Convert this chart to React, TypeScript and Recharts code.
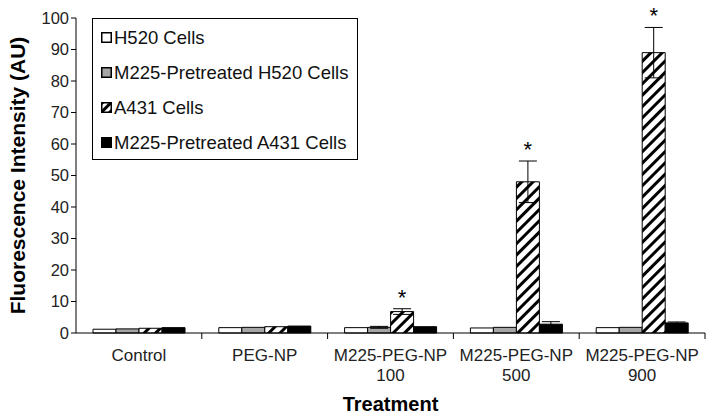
import { BarChart, Bar, XAxis, YAxis, ErrorBar, LabelList } from 'recharts'

const categories = ['Control', 'PEG-NP', 'M225-PEG-NP\n100', 'M225-PEG-NP\n500', 'M225-PEG-NP\n900']
const h520 = [1.2, 1.7, 1.7, 1.6, 1.7]
const m225H520 = [1.3, 1.8, 1.8, 1.8, 1.8]
const a431 = [1.5, 2.0, 6.8, 48, 89]
const m225A431 = [1.7, 2.2, 2.0, 2.8, 3.2]
const h520Err = [0, 0, 0, 0, 0]
const m225H520Err = [0, 0, 0.3, 0, 0]
const a431Err = [0, 0, 0.9, 6.6, 8]
const m225A431Err = [0, 0, 0, 0.8, 0.3]
const significant = [false, false, true, true, true]
const yTicks = [0, 10, 20, 30, 40, 50, 60, 70, 80, 90, 100]

const data = categories.map((name, i) => ({
  name,
  h520: h520[i], h520Err: h520Err[i],
  m225H520: m225H520[i], m225H520Err: m225H520Err[i],
  a431: a431[i], a431Err: a431Err[i],
  m225A431: m225A431[i], m225A431Err: m225A431Err[i],
  sig: significant[i],
}))

const W = 714
const H = 416
const MARGIN = { top: 18, right: 9, left: 0, bottom: 0 }
const Y_W = 76
const FONT = 'Liberation Sans, Arial, sans-serif'

const SERIES = [
  { key: 'h520', name: 'H520 Cells', fill: '#ffffff' },
  { key: 'm225H520', name: 'M225-Pretreated H520 Cells', fill: '#a6a6a6' },
  { key: 'a431', name: 'A431 Cells', fill: 'url(#hatch)' },
  { key: 'm225A431', name: 'M225-Pretreated A431 Cells', fill: '#000000' },
]

// eslint-disable-next-line @typescript-eslint/no-explicit-any
function CatTick({ x, y, payload }: any) {
  const band = (W - MARGIN.right - Y_W) / categories.length
  const lines = String(payload.value).split('\n')
  return (
    <g>
      <line x1={x + band / 2} x2={x + band / 2} y1={y - 8} y2={y - 2} stroke="#000" />
      {lines.map((l, i) => (
        <text key={i} x={x} y={y + 20 + i * 20} textAnchor="middle" fontSize={17} fill="#222" fontFamily={FONT}>{l}</text>
      ))}
    </g>
  )
}

// eslint-disable-next-line @typescript-eslint/no-explicit-any
function Star(props: any) {
  const { x, y, width, height, index } = props
  if (!significant[index]) return null
  const perUnit = height / a431[index]
  const top = y - a431Err[index] * perUnit
  return (
    <text x={x + width / 2} y={top - 4} textAnchor="middle" fontSize={22} fill="#000" fontFamily={FONT}>*</text>
  )
}

function LegendBox() {
  return (
    <div style={{ position: 'absolute', left: 92, top: 18, border: '1.5px solid #000', background: '#fff', width: 266, height: 142, padding: '1px 0 0 8px', boxSizing: 'border-box', fontFamily: FONT }}>
      {SERIES.map((s) => (
        <div key={s.key} style={{ display: 'flex', alignItems: 'center', height: 35, fontSize: 18.5, color: '#111', whiteSpace: 'nowrap' }}>
          <svg width={11} height={11} style={{ marginRight: 2 }}>
            <rect x={0.75} y={0.75} width={9.5} height={9.5} fill={s.key === 'a431' ? 'url(#hatchSmall)' : s.fill} stroke="#000" strokeWidth={1.5} />
          </svg>
          {s.name}
        </div>
      ))}
    </div>
  )
}

export default function App() {
  return (
    <div style={{ position: 'absolute', left: 0, top: 0, width: W, height: H, background: '#fff' }}>
      <BarChart width={W} height={H} data={data} margin={MARGIN} barGap={0} barSize={23}>
        <defs>
          <pattern id="hatch" patternUnits="userSpaceOnUse" width={8} height={8} patternTransform="rotate(45)">
            <rect width={8} height={8} fill="#fff" />
            <rect x={0} y={0} width={3} height={8} fill="#000" />
          </pattern>
          <pattern id="hatchSmall" patternUnits="userSpaceOnUse" width={6} height={6} patternTransform="rotate(45)">
            <rect width={6} height={6} fill="#fff" />
            <rect x={0} y={0} width={3} height={6} fill="#000" />
          </pattern>
        </defs>
        <XAxis
          dataKey="name"
          height={83}
          interval={0}
          tickLine={false}
          axisLine={{ stroke: '#000' }}
          tick={<CatTick />}
          label={{ value: 'Treatment', position: 'insideBottom', offset: 5, fontSize: 20, fontWeight: 'bold', fill: '#000', fontFamily: FONT }}
        />
        <YAxis
          domain={[0, 100]}
          ticks={yTicks}
          width={Y_W}
          interval={0}
          axisLine={{ stroke: '#000' }}
          tickLine={{ stroke: '#000' }}
          tickSize={5}
          tick={{ fontSize: 16.5, fill: '#222', fontFamily: FONT }}
          label={{ value: 'Fluorescence Intensity (AU)', angle: -90, position: 'insideLeft', offset: 18, style: { textAnchor: 'middle' }, fontSize: 21, fontWeight: 'bold', fill: '#000', fontFamily: FONT }}
        />
        {SERIES.map((s) => (
          <Bar key={s.key} dataKey={s.key} name={s.name} fill={s.fill} stroke="#000" strokeWidth={1} isAnimationActive={false}>
            <ErrorBar dataKey={`${s.key}Err`} width={9} stroke="#000" strokeWidth={1} />
            {s.key === 'a431' && <LabelList dataKey="a431" content={<Star />} />}
          </Bar>
        ))}
      </BarChart>
      <LegendBox />
    </div>
  )
}
